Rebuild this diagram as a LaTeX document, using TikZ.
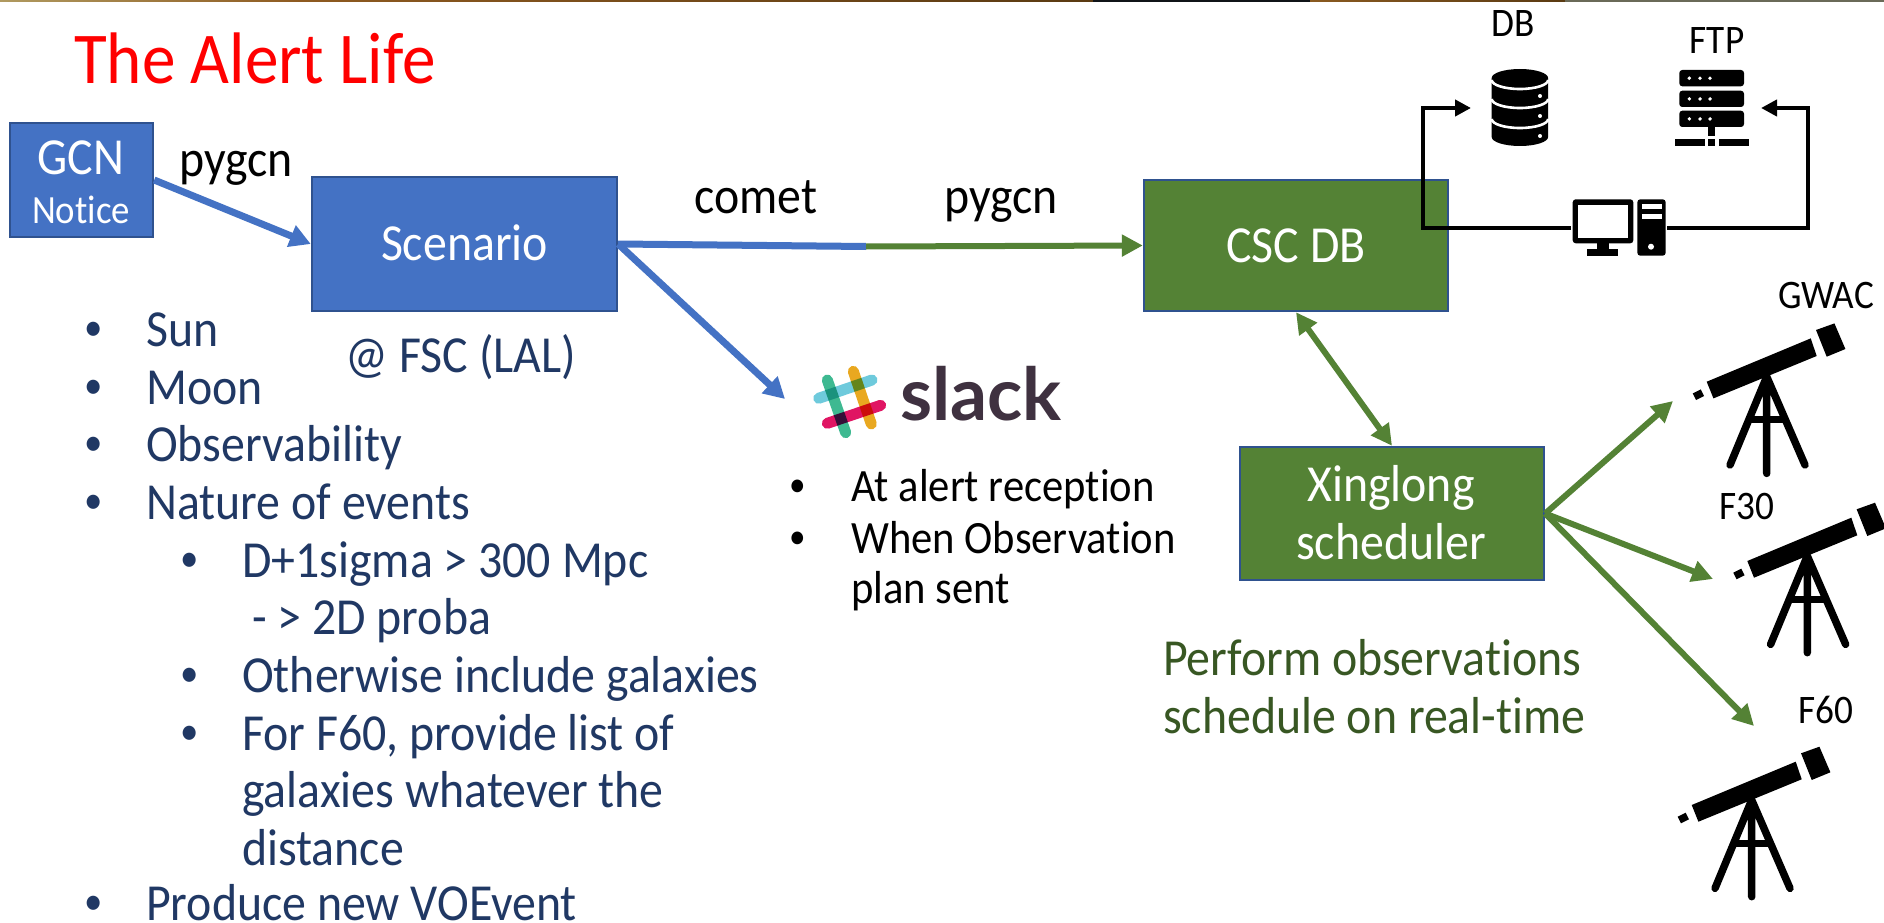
\documentclass[tikz,border=0pt]{standalone}
\usepackage{fontspec}
\setmainfont{Carlito}[FakeStretch=0.92,Ligatures=NoCommon]
\newfontfamily\slackfont{Lato}
\usetikzlibrary{arrows.meta}
\definecolor{bluefill}{HTML}{4472C4}
\definecolor{blueedge}{HTML}{2F528F}
\definecolor{greenfill}{HTML}{548235}
\definecolor{navytext}{HTML}{203864}
\definecolor{greentext}{HTML}{385723}
\definecolor{slackdark}{HTML}{3F3140}
\definecolor{stripa}{HTML}{B09A60}
\definecolor{stripb}{HTML}{8E5A20}
\definecolor{stripc}{HTML}{5A3A12}
\definecolor{stripd}{HTML}{101418}
\definecolor{stripe}{HTML}{8A5A20}
\definecolor{stripf}{HTML}{6A6A58}
\definecolor{slackgreen}{HTML}{3EB991}
\definecolor{slackyellow}{HTML}{E9A820}
\definecolor{slackblue}{HTML}{6ECADC}
\definecolor{slackpink}{HTML}{E01563}
\newcommand{\fs}[1]{\fontsize{#1}{#1}\selectfont}
\tikzset{
  x=1pt,y=-1pt,
  box/.style={draw=blueedge,line width=2.4pt,inner sep=0pt,text=white,align=center},
  bluebox/.style={box,fill=bluefill},
  greenbox/.style={box,fill=greenfill},
  lab/.style={inner sep=0pt,anchor=base west,font=\fs{52},yshift=-1.5pt},
  clab/.style={inner sep=0pt,anchor=base,font=\fs{52},yshift=-1.5pt},
  navy/.style={lab,text=navytext},
  navybullet/.style={inner sep=0pt,anchor=base west,text=navytext,font=\fs{40}},
  slk/.style={lab,font=\fs{46.3}},
  slkbullet/.style={inner sep=0pt,anchor=base west,font=\fs{36}},
  iconlab/.style={inner sep=0pt,anchor=base,font=\fs{40.5},yshift=-1pt},
  perf/.style={lab,text=greentext},
  bluearrow/.style={draw=bluefill,line width=7pt,-{Triangle[length=21pt,width=22pt]}},
  greenarrow/.style={draw=greenfill,line width=6pt,-{Triangle[length=21pt,width=21pt]}},
  blackarrow/.style={draw=black,line width=4pt,-{Triangle[length=16pt,width=16pt]}},
  bar/.style={line width=11pt,line cap=round,blend mode=multiply},
  tscope/.pic={
    \fill[black] (-60,5)--(-53.3,21.7)--(50,-20.7)--(44,-38.3)--cycle;
    \fill[black] (49.3,-46.7)--(67.7,-53.3)--(78.7,-27.7)--(60,-20)--cycle;
    \fill[black] (-74,16.7)--(-66,12.7)--(-62.7,19.3)--(-70.7,23.3)--cycle;
    \draw[black,line width=7.5pt,line cap=round] (0,0)--(-36.7,88.3) (0,0)--(0,96.7) (0,0)--(38.3,88.3);
    \draw[black,line width=7pt] (-18,43)--(18,43);
  }
}
\begin{document}
\begin{tikzpicture}
\useasboundingbox (0,0) rectangle (1884,923);
\fill[white] (0,0) rectangle (1884,923);
% top strip
\shade[left color=stripa,right color=stripb] (0,0) rectangle (300,2);
\shade[left color=stripb,right color=stripc] (300,0) rectangle (1093,2);
\fill[stripd] (1093,0) rectangle (1310,2);
\shade[left color=stripe,right color=stripc] (1310,0) rectangle (1565,2);
\fill[stripf] (1565,0) rectangle (1884,2);
% title
\node[lab,text=red,font=\fs{73}] (title) at (74,82) {The Alert Life};
% boxes
\node[bluebox,minimum width=143pt,minimum height=114pt] (gcn) at (81.5,180) {};
\node[clab,text=white] (gcntxt) at (81,173) {GCN};
\node[inner sep=0pt,anchor=base,text=white,font=\fs{40},yshift=-1pt] (gcntxt2) at (81,222) {Notice};
\node[bluebox,minimum width=305pt,minimum height=134pt] (scen) at (464.5,244) {};
\node[clab,text=white] (scentxt) at (464.5,259) {Scenario};
\node[greenbox,minimum width=304pt,minimum height=131pt] (csc) at (1296,245.5) {};
\node[clab,text=white] (csctxt) at (1296,261) {CSC DB};
\node[greenbox,minimum width=304pt,minimum height=133pt] (xing) at (1392,513.5) {};
\node[clab,text=white] (xtxt1) at (1391,500) {Xinglong};
\node[clab,text=white] (xtxt2) at (1391,558) {scheduler};
% labels
\node[clab] (l1) at (236,175) {pygcn};
\node[clab] (l2) at (756,212) {comet};
\node[clab] (l3) at (1001,212) {pygcn};
\node[clab,text=navytext] (fsc) at (461,371) {@ FSC (LAL)};
% left list
\foreach \nm/\y/\t in {a/345/Sun,b/403/Moon,c/460/Observability,d/518/Nature of events,e/919/Produce new VOEvent}{
  \node[navybullet] (b\nm) at (84,\y-5) {•};
  \node[navy] (t\nm) at (146,\y) {\t};
}
\foreach \nm/\y/\t in {f/576/D+1sigma > 300 Mpc,g/691/Otherwise include galaxies,h/749/{For F60, provide list of}}{
  \node[navybullet] (b\nm) at (180,\y-5) {•};
  \node[navy] (t\nm) at (242,\y) {\t};
}
\node[navy] (ti) at (252,633) {- > 2D proba};
\node[navy] (tj) at (242,806) {galaxies whatever the};
\node[navy] (tk) at (242,864) {distance};
% slack list
\node[slkbullet] (s1b) at (789,496) {•};
\node[slk] (s1) at (851,500) {At alert reception};
\node[slkbullet] (s2b) at (789,548) {•};
\node[slk] (s2) at (851,552) {When Observation};
\node[slk] (s3) at (851,602) {plan sent};
% green text
\node[perf] (p1) at (1163,674) {Perform observations};
\node[perf] (p2) at (1163,732) {schedule on real-time};
% slack logo
\begin{scope}[xshift=-2pt]
  \draw[bar,color=slackgreen] (829.3,380)--(847.7,432.7);
  \draw[bar,color=slackyellow] (855.3,371.3)--(873.3,424);
  \draw[bar,color=slackblue] (820.7,398.3)--(874,380);
  \draw[bar,color=slackpink] (829.3,423.3)--(882.7,405.3);
\end{scope}
\node[inner sep=0pt,anchor=base west,text=slackdark,font=\slackfont\bfseries\fs{73}] (slacktxt) at (900,420) {slack};
% connectors
\coordinate (junc) at (866,246.5);
\coordinate (slackin) at (785,399);
\draw[bluearrow] (gcn.east) -- (scen.west);
\draw[draw=bluefill,line width=7pt] (scen.east) -- (junc);
\draw[greenarrow] (junc) -- (csc.west);
\draw[bluearrow] (scen.east) -- (slackin);
\draw[greenarrow,{Triangle[length=21pt,width=21pt]}-{Triangle[length=21pt,width=21pt]}] (csc.south) -- (xing.north);
\coordinate (gw) at (1673,401);
\coordinate (f3) at (1713,579);
\coordinate (f6) at (1754,726);
\draw[greenarrow] (xing.east) -- (gw);
\draw[greenarrow] (xing.east) -- (f3);
\draw[greenarrow] (xing.east) -- (f6);
% telescopes
\pic at (1766.7,376.7) {tscope};
\pic at (1807.3,556) {tscope};
\pic at (1751.7,800) {tscope};
\node[iconlab] (gwac) at (1826,307) {GWAC};
\node[iconlab] (f30) at (1747,518) {F30};
\node[iconlab] (f60) at (1826,722) {F60};
% DB icon
\node[iconlab] (dbl) at (1513,36) {DB};
\fill[black] (1491.7,78) -- (1491.7,137) arc[start angle=180,end angle=0,x radius=28.2,y radius=9] -- (1548.1,78) arc[start angle=0,end angle=-180,x radius=28.2,y radius=9] -- cycle;
\draw[white,line width=2.6pt] (1491.7,80) arc[start angle=180,end angle=0,x radius=28.2,y radius=9];
\draw[white,line width=2.6pt] (1491.7,99) arc[start angle=180,end angle=0,x radius=28.2,y radius=9];
\draw[white,line width=2.6pt] (1491.7,119) arc[start angle=180,end angle=0,x radius=28.2,y radius=9];
\fill[white] (1540,96) circle[radius=2] (1540,116) circle[radius=2] (1540,136) circle[radius=2];
% FTP icon
\node[iconlab] (ftpl) at (1717,53) {FTP};
\foreach \yy in {70,90.7,110.7}{
  \fill[black,rounded corners=3pt] (1679.3,\yy) rectangle (1744,\yy+16.3);
  \fill[white] (1689.3,\yy+8.2) circle[radius=1.9] (1700,\yy+8.2) circle[radius=1.9] (1710,\yy+8.2) circle[radius=1.9];
}
\fill[black] (1708,127) rectangle (1715,136);
\fill[black] (1675,139) rectangle (1705,145.7);
\fill[black] (1708,139) rectangle (1715,145.7);
\fill[black] (1719,139) rectangle (1749,145.7);
% computer icon
\node[inner sep=0pt,minimum width=96pt,minimum height=56pt] (pc) at (1619,228) {};
\fill[black,rounded corners=3pt] (1572.7,199.3) rectangle (1633.3,243.3);
\fill[white] (1578.3,205) rectangle (1627.7,237.7);
\fill[black] (1596.7,243) rectangle (1609.3,250);
\fill[black] (1587.3,249.3) rectangle (1618.3,255.7);
\fill[black,rounded corners=3pt] (1637.3,199.3) rectangle (1665.7,255.7);
\fill[white] (1641.7,204) rectangle (1661.7,209.3);
\fill[white] (1641.7,214) rectangle (1661.7,219.3);
\fill[white] (1651,246.7) circle[radius=3];
% black connectors
\coordinate (dbcorner) at (1423,108);
\coordinate (dbin) at (1471,108);
\coordinate (ftpcorner) at (1808,108);
\coordinate (ftpin) at (1761,108);
\draw[blackarrow] (pc.west) -- (dbcorner |- pc.west) -- (dbcorner) -- (dbin);
\draw[blackarrow] (pc.east) -- (ftpcorner |- pc.east) -- (ftpcorner) -- (ftpin);
\end{tikzpicture}
\end{document}
